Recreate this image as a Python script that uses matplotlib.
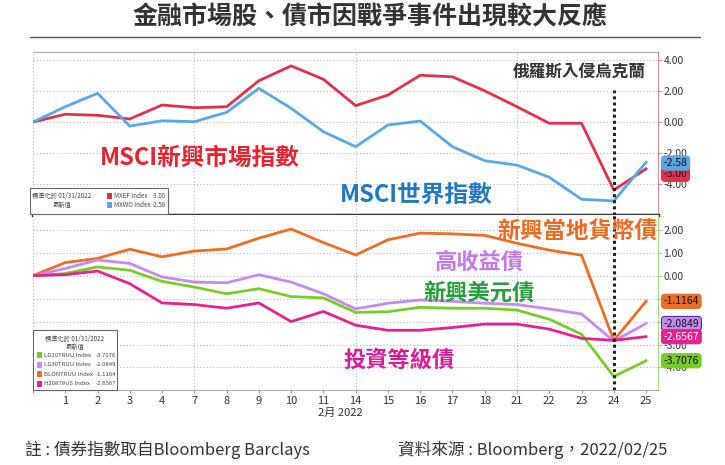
import matplotlib
matplotlib.use('Agg')
import matplotlib.pyplot as plt
from matplotlib.patches import Rectangle
from matplotlib.lines import Line2D

plt.rcParams['font.family'] = ['Noto Sans CJK TC', 'DejaVu Sans']

# trading days, 01/31/2022 is the start (no label)
days = ['', '1', '2', '3', '4', '7', '8', '9', '10', '11', '14', '15', '16',
        '17', '18', '21', '22', '23', '24', '25']

# stocks (normalised, %)
mxef = [0.0, 0.5, 0.43, 0.2, 1.09, 0.92, 0.98, 2.65, 3.6, 2.74, 1.05, 1.73,
        3.0, 2.9, 2.0, 0.98, -0.08, -0.08, -4.36, -3.00]
mxwo = [0.0, 0.98, 1.84, -0.26, 0.08, 0.02, 0.62, 2.16, 0.88, -0.62, -1.58,
        -0.19, 0.06, -1.58, -2.48, -2.76, -3.54, -4.95, -5.06, -2.58]

# bonds (normalised, %)
blontruu = [0, 0.57, 0.75, 1.15, 0.82, 1.07, 1.16, 1.63, 2.03, 1.44, 0.9, 1.56,
            1.85, 1.82, 1.75, 1.41, 1.11, 0.89, -2.82, -1.1164]
lg30truu = [0, 0.31, 0.68, 0.53, -0.06, -0.28, -0.31, 0.04, -0.28, -0.79, -1.45,
            -1.2, -1.06, -1.12, -1.2, -1.26, -1.45, -1.67, -2.85, -2.0849]
lg20truu = [0, 0.09, 0.38, 0.23, -0.25, -0.5, -0.79, -0.57, -0.91, -0.97, -1.6,
            -1.57, -1.38, -1.42, -1.42, -1.5, -1.9, -2.55, -4.39, -3.7076]
h20878us = [0, 0.04, 0.2, -0.35, -1.19, -1.26, -1.42, -1.19, -2.0, -1.56, -2.16,
            -2.38, -2.38, -2.26, -2.11, -2.11, -2.33, -2.73, -2.82, -2.6567]

top_ticks = [4, 2, 0, -2, -4]
bot_ticks = [2, 1, 0, -1, -2, -3, -4]

RED = '#e2304a'
BLUE = '#5aa7e6'
ORANGE = '#ec6d24'
PURPLE = '#c48af0'
GREEN = '#78cc28'
MAGENTA = '#e5218f'

W, H = 725, 465


def px(x, y):
    return x / W, 1 - y / H


fig = plt.figure(figsize=(7.25, 4.65), dpi=100)
x = list(range(len(days)))

ax1 = fig.add_axes([33 / W, 1 - 215 / H, 625 / W, 163 / H])
ax2 = fig.add_axes([33 / W, 1 - 390 / H, 625 / W, 175 / H])

for ax in (ax1, ax2):
    ax.set_xlim(0, 19.37)
    ax.yaxis.tick_right()
    ax.grid(axis='y', ls=(0, (1, 2)), color='#b8b8b8', lw=0.8)
    for xv in [0, 5, 10, 15]:
        ax.axvline(xv, ls=(0, (1, 2)), color='#b8b8b8', lw=0.8, zorder=0)
    ax.spines['left'].set_visible(False)
    ax.tick_params(axis='y', length=3, width=0.8, pad=1, labelsize=7.5,
                   labelcolor='#333')

# top panel
ax1.set_ylim(-5.96, 4.49)
ax1.set_yticks(top_ticks)
ax1.set_yticklabels(['%.2f' % v for v in top_ticks])
ax1.plot(x, mxef, color=RED, lw=2)
ax1.plot(x, mxwo, color=BLUE, lw=2)
ax1.axvline(18, ymin=0, ymax=0.766, color='#222', ls=(0, (1, 1)), lw=2.2, zorder=4)
ax1.set_xticks([])
ax1.spines['top'].set_color('#aaa')
ax1.spines['top'].set_linewidth(0.8)
ax1.spines['right'].set_color('#e88a9a')
ax1.spines['right'].set_linewidth(0.8)
ax1.spines['bottom'].set_color('#333')
ax1.spines['bottom'].set_linewidth(2.5)
ax1.tick_params(axis='y', colors='#e88a9a', labelcolor='#333')

# bottom panel
ax2.set_ylim(-4.98, 2.64)
ax2.set_yticks(bot_ticks)
ax2.set_yticklabels(['%.2f' % v for v in bot_ticks])
ax2.plot(x, blontruu, color=ORANGE, lw=2)
ax2.plot(x, lg30truu, color=PURPLE, lw=2)
ax2.plot(x, lg20truu, color=GREEN, lw=2)
ax2.plot(x, h20878us, color=MAGENTA, lw=2)
ax2.axvline(18, color='#222', ls=(0, (1, 1)), lw=2.2, zorder=4)
ax2.set_xticks(x)
ax2.set_xticklabels(days)
ax2.tick_params(axis='x', length=2, labelsize=8, labelcolor='#333', colors='#999', pad=2)
ax2.spines['top'].set_visible(False)
ax2.spines['bottom'].set_color('#aaa')
ax2.spines['right'].set_color('#a8dc80')
ax2.spines['right'].set_linewidth(0.8)
ax2.tick_params(axis='y', colors='#a8dc80', labelcolor='#333')


# value tags on the right axis
def tag(ax, val, label, fc, tc='#111', ec=None):
    ax.annotate(label, xy=(1, val), xycoords=('axes fraction', 'data'),
                xytext=(4, 0), textcoords='offset points', ha='left', va='center',
                fontsize=7.5, color=tc, zorder=6, annotation_clip=False,
                bbox=dict(boxstyle='round,pad=0.2,rounding_size=0.3', fc=fc,
                          ec=ec or fc, lw=0.8))


tag(ax1, mxef[-1] - 0.35, '-3.00', RED)
tag(ax1, mxwo[-1] - 0.05, '-2.58', BLUE)
tag(ax2, blontruu[-1], '-1.1164', ORANGE)
tag(ax2, lg30truu[-1], '-2.0849', PURPLE, ec='#5a2a90')
tag(ax2, h20878us[-1], '-2.6567', MAGENTA, tc='white')
tag(ax2, lg20truu[-1], '-3.7076', GREEN)

# title and line
fig.text(*px(370, 17), '金融市場股、債市因戰爭事件出現較大反應', ha='center', va='center',
         fontsize=18, fontweight='bold', color='#333')
fig.add_artist(Line2D([30 / W, 700 / W], [1 - 37 / H] * 2, color='#555', lw=1))

# callouts
fig.text(*px(100, 158), 'MSCI新興市場指數', ha='left', va='center', fontsize=17,
         fontweight='bold', color='#e5242f')
fig.text(*px(340, 195), 'MSCI世界指數', ha='left', va='center', fontsize=17,
         fontweight='bold', color='#1f78c1')
fig.text(*px(513, 72), '俄羅斯入侵烏克蘭', ha='left', va='center', fontsize=12,
         fontweight='bold', color='#333')
fig.text(*px(497, 232), '新興當地貨幣債', ha='left', va='center', fontsize=16.5,
         fontweight='bold', color='#ee6a1e', zorder=7)
fig.text(*px(435, 262), '高收益債', ha='left', va='center', fontsize=16,
         fontweight='bold', color='#c27ae8')
fig.text(*px(423, 293), '新興美元債', ha='left', va='center', fontsize=16,
         fontweight='bold', color='#23a03c')
fig.text(*px(343, 360), '投資等級債', ha='left', va='center', fontsize=16,
         fontweight='bold', color='#d81c9a')

# legend boxes
def legend_box(x0, y0, x1, y1):
    fig.add_artist(Rectangle(px(x0, y1), (x1 - x0) / W, (y1 - y0) / H,
                             transform=fig.transFigure, fc='white', ec='#666', lw=0.8,
                             zorder=5))


legend_box(30, 188, 168, 214)
fig.text(*px(62, 196), '標準化於 01/31/2022', ha='center', va='center', fontsize=4.5,
         color='#444', zorder=6)
fig.text(*px(62, 205), '最新值', ha='center', va='center', fontsize=4.5, color='#444',
         zorder=6)
for i, (nm, c, v) in enumerate([('MXEF Index', RED, '-3.00'), ('MXWO Index', BLUE, '-2.58')]):
    yy = 196 + i * 9
    fig.add_artist(Rectangle(px(107, yy + 3), 5 / W, 6 / H, transform=fig.transFigure,
                             fc=c, ec='none', zorder=6))
    fig.text(*px(114, yy), nm, ha='left', va='center', fontsize=4.5, color='#444', zorder=6)
    fig.text(*px(166, yy), v, ha='right', va='center', fontsize=4.5, color='#444', zorder=6)

legend_box(33, 330, 117, 390)
fig.text(*px(75, 339), '標準化於 01/31/2022', ha='center', va='center', fontsize=4.5,
         color='#444', zorder=6)
fig.text(*px(75, 347), '最新值', ha='center', va='center', fontsize=4.5, color='#444',
         zorder=6)
bond_legend = [('LG20TRUU Index', GREEN, '-3.7076'), ('LG30TRUU Index', PURPLE, '-2.0849'),
               ('BLONTRUU Index', ORANGE, '-1.1164'), ('H20878US Index', MAGENTA, '-2.6567')]
for i, (nm, c, v) in enumerate(bond_legend):
    yy = 355 + i * 9.5
    fig.add_artist(Rectangle(px(37, yy + 3), 5 / W, 6 / H, transform=fig.transFigure,
                             fc=c, ec='none', zorder=6))
    fig.text(*px(44, yy), nm, ha='left', va='center', fontsize=4.3, color='#444', zorder=6)
    fig.text(*px(116, yy), v, ha='right', va='center', fontsize=4.3, color='#444', zorder=6)

# axis date label and footer
fig.text(*px(340, 413), '2月 2022', ha='center', va='center', fontsize=8, color='#333')
fig.text(*px(25, 450), '註 : 債券指數取自Bloomberg Barclays', ha='left', va='center',
         fontsize=12, color='#333')
fig.text(*px(398, 450), '資料來源 : Bloomberg，2022/02/25', ha='left', va='center',
         fontsize=12, color='#333')

fig.savefig('out.png', dpi=100, facecolor='white')
